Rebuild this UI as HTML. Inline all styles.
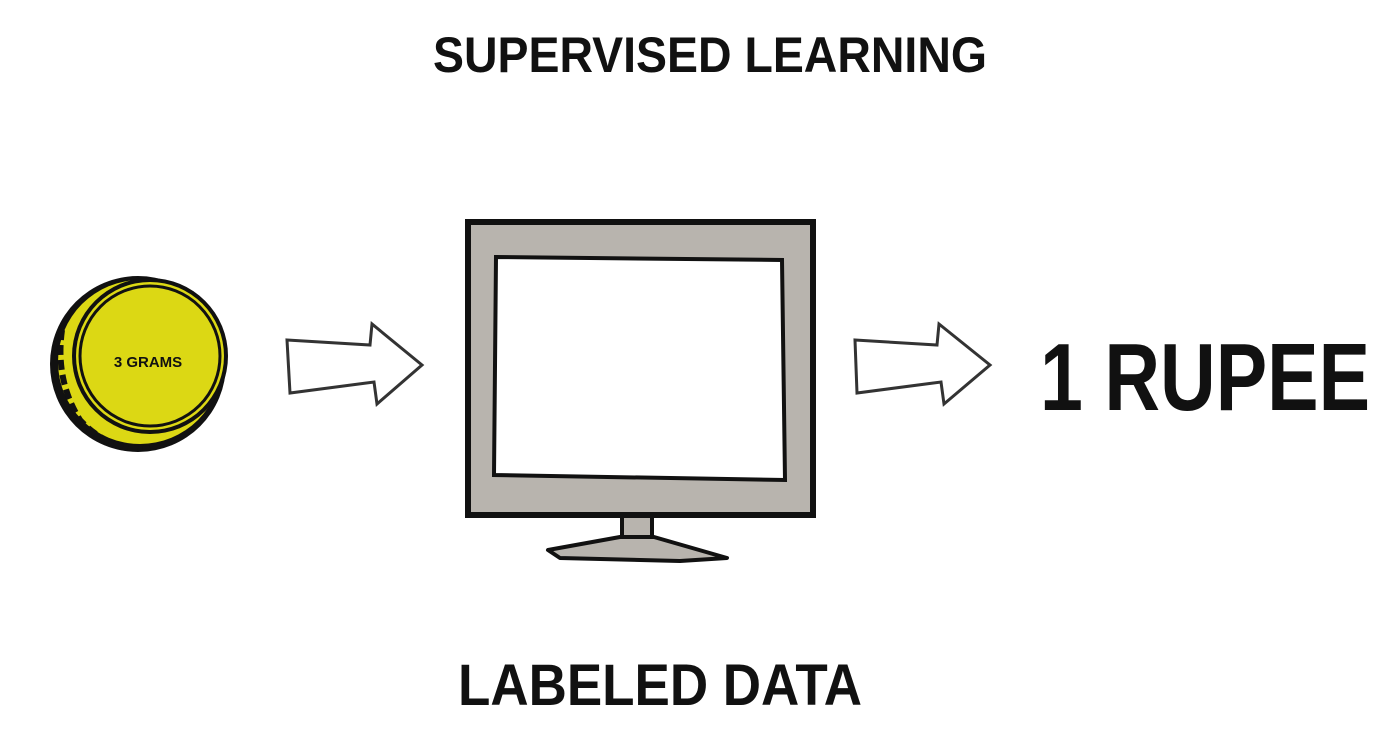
<!DOCTYPE html>
<html><head><style>
body{margin:0;width:1400px;height:730px;background:#fff;overflow:hidden}
svg{position:absolute;left:0;top:0}
text{font-family:"Liberation Sans",sans-serif;font-weight:bold;fill:#111}
</style></head><body>
<svg width="1400" height="730" viewBox="0 0 1400 730">
<text x="710" y="72" font-size="50" text-anchor="middle" textLength="554" lengthAdjust="spacingAndGlyphs">SUPERVISED LEARNING</text>
<text x="660" y="705" font-size="58" text-anchor="middle" textLength="404" lengthAdjust="spacingAndGlyphs">LABELED DATA</text>
<text x="1205" y="410" font-size="96" text-anchor="middle" textLength="330" lengthAdjust="spacingAndGlyphs">1 RUPEE</text>
<!-- coin -->
<ellipse cx="138" cy="364" rx="88" ry="88" fill="#111"/>
<ellipse cx="140" cy="362" rx="82" ry="82" fill="#dcd814"/>
<circle cx="150" cy="356" r="78" fill="#111"/>
<circle cx="150" cy="356" r="74" fill="#dcd814"/>
<circle cx="150" cy="356" r="70" fill="none" stroke="#111" stroke-width="3"/>
<path d="M62 330 Q55 380 80 420 Q110 452 150 448" fill="none" stroke="#111" stroke-width="6" stroke-dasharray="10 5"/>
<text x="148" y="367" font-size="15" font-weight="normal" text-anchor="middle">3 GRAMS</text>
<!-- arrows -->
<polygon points="287,340 370,345 372,324 422,365 377,404 374,382 290,393" fill="#fff" stroke="#333" stroke-width="3"/>
<polygon points="855,340 937,345 939,324 990,365 944,404 941,382 857,393" fill="#fff" stroke="#333" stroke-width="3"/>
<!-- monitor -->
<rect x="622" y="512" width="30" height="28" fill="#b8b4ae" stroke="#111" stroke-width="4"/>
<polygon points="548,550 620,537 654,537 727,558 680,561 560,558" fill="#b8b4ae" stroke="#111" stroke-width="4" stroke-linejoin="round"/>
<rect x="468" y="222" width="345" height="293" fill="#b8b4ae" stroke="#111" stroke-width="6"/>
<polygon points="496,257 782,260 785,480 494,475" fill="#fff" stroke="#111" stroke-width="4"/>
</svg>
</body></html>
